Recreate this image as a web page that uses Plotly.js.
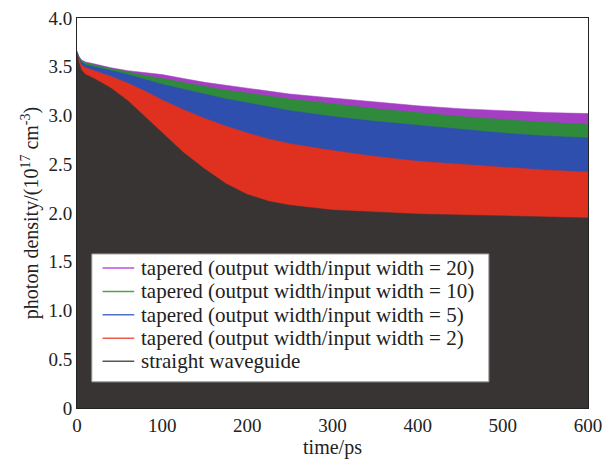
<!DOCTYPE html>
<html>
<head>
<meta charset="utf-8">
<script src="https://cdn.plot.ly/plotly-3.0.1.min.js"></script>
<style>
#chart svg text { font-family: 'Liberation Serif', 'Times New Roman', serif !important; }
</style>
</head>
<body style="margin:0">
<div id="chart" style="width:613px;height:464px"></div>
<script>
// time axis (ps)
const time = [0, 2, 5, 10, 20, 30, 40, 60, 80, 100, 125, 150, 175, 200, 225, 250, 300, 350, 400, 450, 500, 550, 600];
// photon density (10^17 cm^-3)
const straight = [3.63, 3.55, 3.47, 3.42, 3.38, 3.33, 3.28, 3.15, 2.99, 2.82, 2.62, 2.45, 2.30, 2.19, 2.12, 2.08, 2.03, 2.01, 1.99, 1.98, 1.97, 1.96, 1.95];
const taper2 = [3.63, 3.58, 3.52, 3.49, 3.46, 3.43, 3.40, 3.33, 3.25, 3.16, 3.06, 2.97, 2.89, 2.82, 2.76, 2.71, 2.64, 2.58, 2.53, 2.50, 2.47, 2.44, 2.42];
const taper5 = [3.65, 3.60, 3.55, 3.52, 3.50, 3.48, 3.46, 3.42, 3.37, 3.32, 3.27, 3.22, 3.17, 3.13, 3.09, 3.05, 2.99, 2.94, 2.90, 2.86, 2.82, 2.79, 2.77];
const taper10 = [3.66, 3.61, 3.57, 3.54, 3.52, 3.50, 3.48, 3.45, 3.41, 3.38, 3.34, 3.30, 3.26, 3.23, 3.20, 3.17, 3.12, 3.07, 3.03, 2.99, 2.96, 2.93, 2.91];
const taper20 = [3.66, 3.61, 3.57, 3.55, 3.53, 3.51, 3.49, 3.46, 3.44, 3.42, 3.38, 3.34, 3.31, 3.28, 3.25, 3.22, 3.18, 3.14, 3.10, 3.07, 3.05, 3.03, 3.02];

const seriesNames = [
  'tapered (output width/input width = 20)',
  'tapered (output width/input width = 10)',
  'tapered (output width/input width = 5)',
  'tapered (output width/input width = 2)',
  'straight waveguide'
];
const seriesData = [taper20, taper10, taper5, taper2, straight];
const fillColors = ['#a43fc4', '#2f8a3c', '#2f4fae', '#e0301f', '#393434'];
const legendColors = ['#c050e0', '#50a050', '#5070c8', '#f05a48', '#555555'];

const traces = seriesData.map((s, i) => ({
  x: time, y: s, type: 'scatter', mode: 'lines', name: seriesNames[i],
  line: {color: fillColors[i], width: 0.5},
  fill: 'tozeroy', fillcolor: fillColors[i],
  showlegend: false, hoverinfo: 'skip'
}));

const FAM = 'Liberation Serif';
const fnt = (size) => ({family: FAM, size: size, color: '#222'});

// custom legend (box, line samples, labels) in paper coordinates
const legX0 = 0.029, legX1 = 0.806, legY0 = 0.067, legY1 = 0.395;
const rowY = [0.359, 0.299, 0.239, 0.179, 0.120];
const shapes = [{
  type: 'rect', xref: 'paper', yref: 'paper',
  x0: legX0, x1: legX1, y0: legY0, y1: legY1,
  fillcolor: '#ffffff', line: {color: '#999', width: 1}, layer: 'above'
}];
const annotations = [];
seriesNames.forEach((n, i) => {
  shapes.push({
    type: 'line', xref: 'paper', yref: 'paper',
    x0: 0.050, x1: 0.112, y0: rowY[i], y1: rowY[i],
    line: {color: legendColors[i], width: 1.5}, layer: 'above'
  });
  annotations.push({
    xref: 'paper', yref: 'paper', x: 0.121, y: rowY[i],
    xanchor: 'left', yanchor: 'middle', showarrow: false,
    text: n, font: fnt(21)
  });
});

const layout = {
  width: 613, height: 464,
  margin: {l: 77, r: 25, t: 18, b: 56},
  paper_bgcolor: '#fff', plot_bgcolor: '#fff',
  font: fnt(17),
  showlegend: false,
  xaxis: {
    range: [0, 600], tickvals: [0, 100, 200, 300, 400, 500, 600],
    showgrid: false, zeroline: false, showline: true, mirror: true,
    linecolor: '#222', linewidth: 1, ticks: '',
    tickfont: fnt(19),
    title: {text: 'time/ps', font: fnt(20), standoff: 2}
  },
  yaxis: {
    range: [0, 4.0],
    tickvals: [0, 0.5, 1.0, 1.5, 2.0, 2.5, 3.0, 3.5, 4.0],
    ticktext: ['0', '0.5', '1.0', '1.5', '2.0', '2.5', '3.0', '3.5', '4.0'],
    showgrid: false, zeroline: false, showline: true, mirror: true,
    linecolor: '#222', linewidth: 1, ticks: '',
    tickfont: fnt(19),
    title: {text: 'photon density/(10<sup>17</sup> cm<sup>-3</sup>)', font: fnt(20), standoff: 4}
  },
  shapes: shapes,
  annotations: annotations
};

Plotly.newPlot('chart', traces, layout, {displayModeBar: false, staticPlot: true});
</script>
</body>
</html>
